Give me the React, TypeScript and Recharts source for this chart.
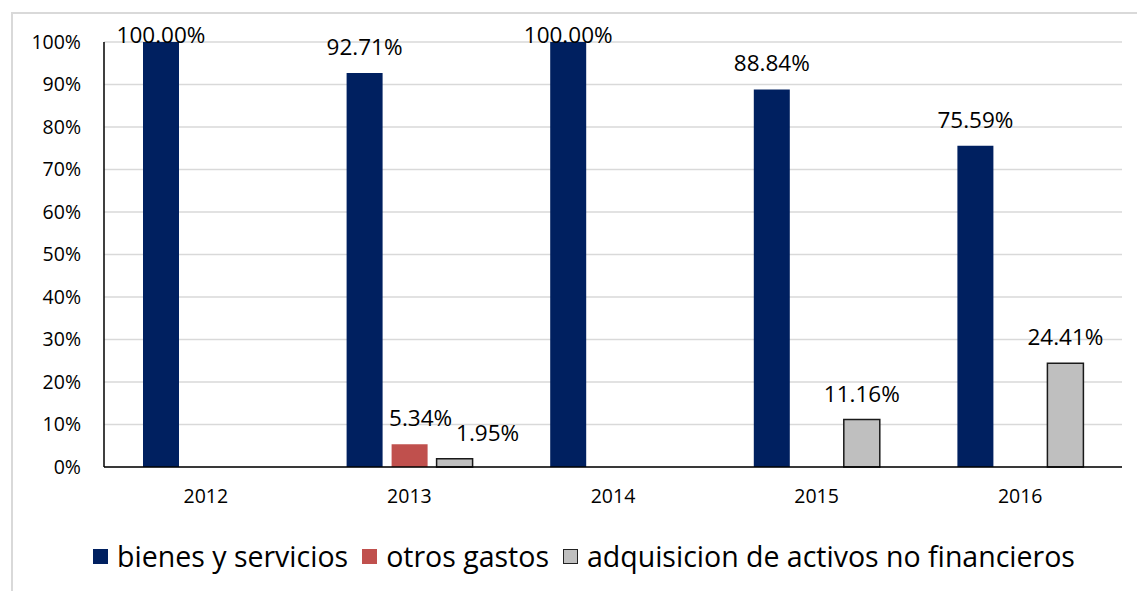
import React from 'react';
import { BarChart, Bar, XAxis, YAxis, CartesianGrid, Legend, LabelList } from 'recharts';

const categories = ['2012', '2013', '2014', '2015', '2016'];
const bienes = [100, 92.71, 100, 88.84, 75.59];
const otros = [null, 5.34, null, null, null];
const adquisicion = [null, 1.95, null, 11.16, 24.41];
const yTicks = [0, 10, 20, 30, 40, 50, 60, 70, 80, 90, 100];

const seriesNames = ['bienes y servicios', 'otros gastos', 'adquisicion de activos no financieros'];
const colors = ['#002060', '#C0504D', '#BFBFBF'];

const data = categories.map((c, i) => ({
  cat: c,
  bienes: bienes[i],
  otros: otros[i],
  adquisicion: adquisicion[i],
}));

const seriesArrays: Record<string, (number | null)[]> = { bienes, otros, adquisicion };

const FONT = '"Open Sans", sans-serif';
const LABEL_MIN_Y = 43;
// horizontal nudges for crowded labels (style only), keyed by series key and category index
const LABEL_NUDGE: Record<string, number[]> = {
  bienes: [0, 0, 0, 0, 0],
  otros: [0, 11, 0, 0, 0],
  adquisicion: [0, 33, 0, 0, 0],
};

const makeLabel = (key: string) => (props: any) => {
  const { x, y, width, value } = props;
  if (value === null || value === undefined) return null;
  let idx = seriesArrays[key].indexOf(Number(value));
  if (idx < 0) idx = 0;
  const ty = Math.max(Number(y) - 18, LABEL_MIN_Y);
  const dx = LABEL_NUDGE[key][idx] || 0;
  return (
    <text x={Number(x) + Number(width) / 2 + dx} y={ty} textAnchor="middle" fontSize={22.5} fontFamily={FONT} fill="#000">
      {Number(value).toFixed(2) + '%'}
    </text>
  );
};

const renderLegend = () => (
  <div style={{ display: 'flex', justifyContent: 'center', alignItems: 'center', fontFamily: FONT, fontSize: 28.5, color: '#000', paddingLeft: 46 }}>
    {seriesNames.map((n, i) => (
      <div key={n} style={{ display: 'flex', alignItems: 'center', marginRight: i < 2 ? 14 : 0 }}>
        <span style={{ display: 'inline-block', width: 15, height: 15, background: colors[i], border: i === 2 ? '1.5px solid #222' : 'none', marginRight: 9, boxSizing: 'border-box' }} />
        <span>{n}</span>
      </div>
    ))}
  </div>
);

export default function App() {
  return (
    <div style={{ position: 'fixed', left: 0, top: 0, width: 1137, height: 591, overflow: 'hidden', background: '#fff' }}>
      <div style={{ position: 'absolute', left: 11, top: 12, width: 1200, height: 700, borderLeft: '2px solid #D9D9D9', borderTop: '2px solid #D9D9D9' }} />
      <div style={{ position: 'absolute', left: 0, top: 0 }}>
        <BarChart width={1137} height={591} data={data} margin={{ top: 42, right: 15, left: 0, bottom: 42 }} barSize={36} barGap={9}>
          <CartesianGrid vertical={false} stroke="#D9D9D9" strokeWidth={1.5} />
          <XAxis dataKey="cat" axisLine={{ stroke: '#000', strokeWidth: 1.5 }} tickLine={false} tick={{ fontSize: 19.5, fontFamily: FONT, fill: '#000' }} tickMargin={16} height={44} />
          <YAxis domain={[0, 100]} ticks={yTicks} tickFormatter={(v: number) => v + '%'} axisLine={{ stroke: '#000', strokeWidth: 1.5 }} tickLine={false} tick={{ fontSize: 19.5, fontFamily: FONT, fill: '#000' }} width={104} tickMargin={17} interval={0} />
          <Legend verticalAlign="bottom" content={renderLegend} wrapperStyle={{ bottom: 16 }} />
          <Bar dataKey="bienes" name={seriesNames[0]} fill={colors[0]} isAnimationActive={false}>
            <LabelList dataKey="bienes" content={makeLabel('bienes')} />
          </Bar>
          <Bar dataKey="otros" name={seriesNames[1]} fill={colors[1]} isAnimationActive={false}>
            <LabelList dataKey="otros" content={makeLabel('otros')} />
          </Bar>
          <Bar dataKey="adquisicion" name={seriesNames[2]} fill={colors[2]} stroke="#1a1a1a" strokeWidth={1.5} isAnimationActive={false}>
            <LabelList dataKey="adquisicion" content={makeLabel('adquisicion')} />
          </Bar>
        </BarChart>
      </div>
    </div>
  );
}
